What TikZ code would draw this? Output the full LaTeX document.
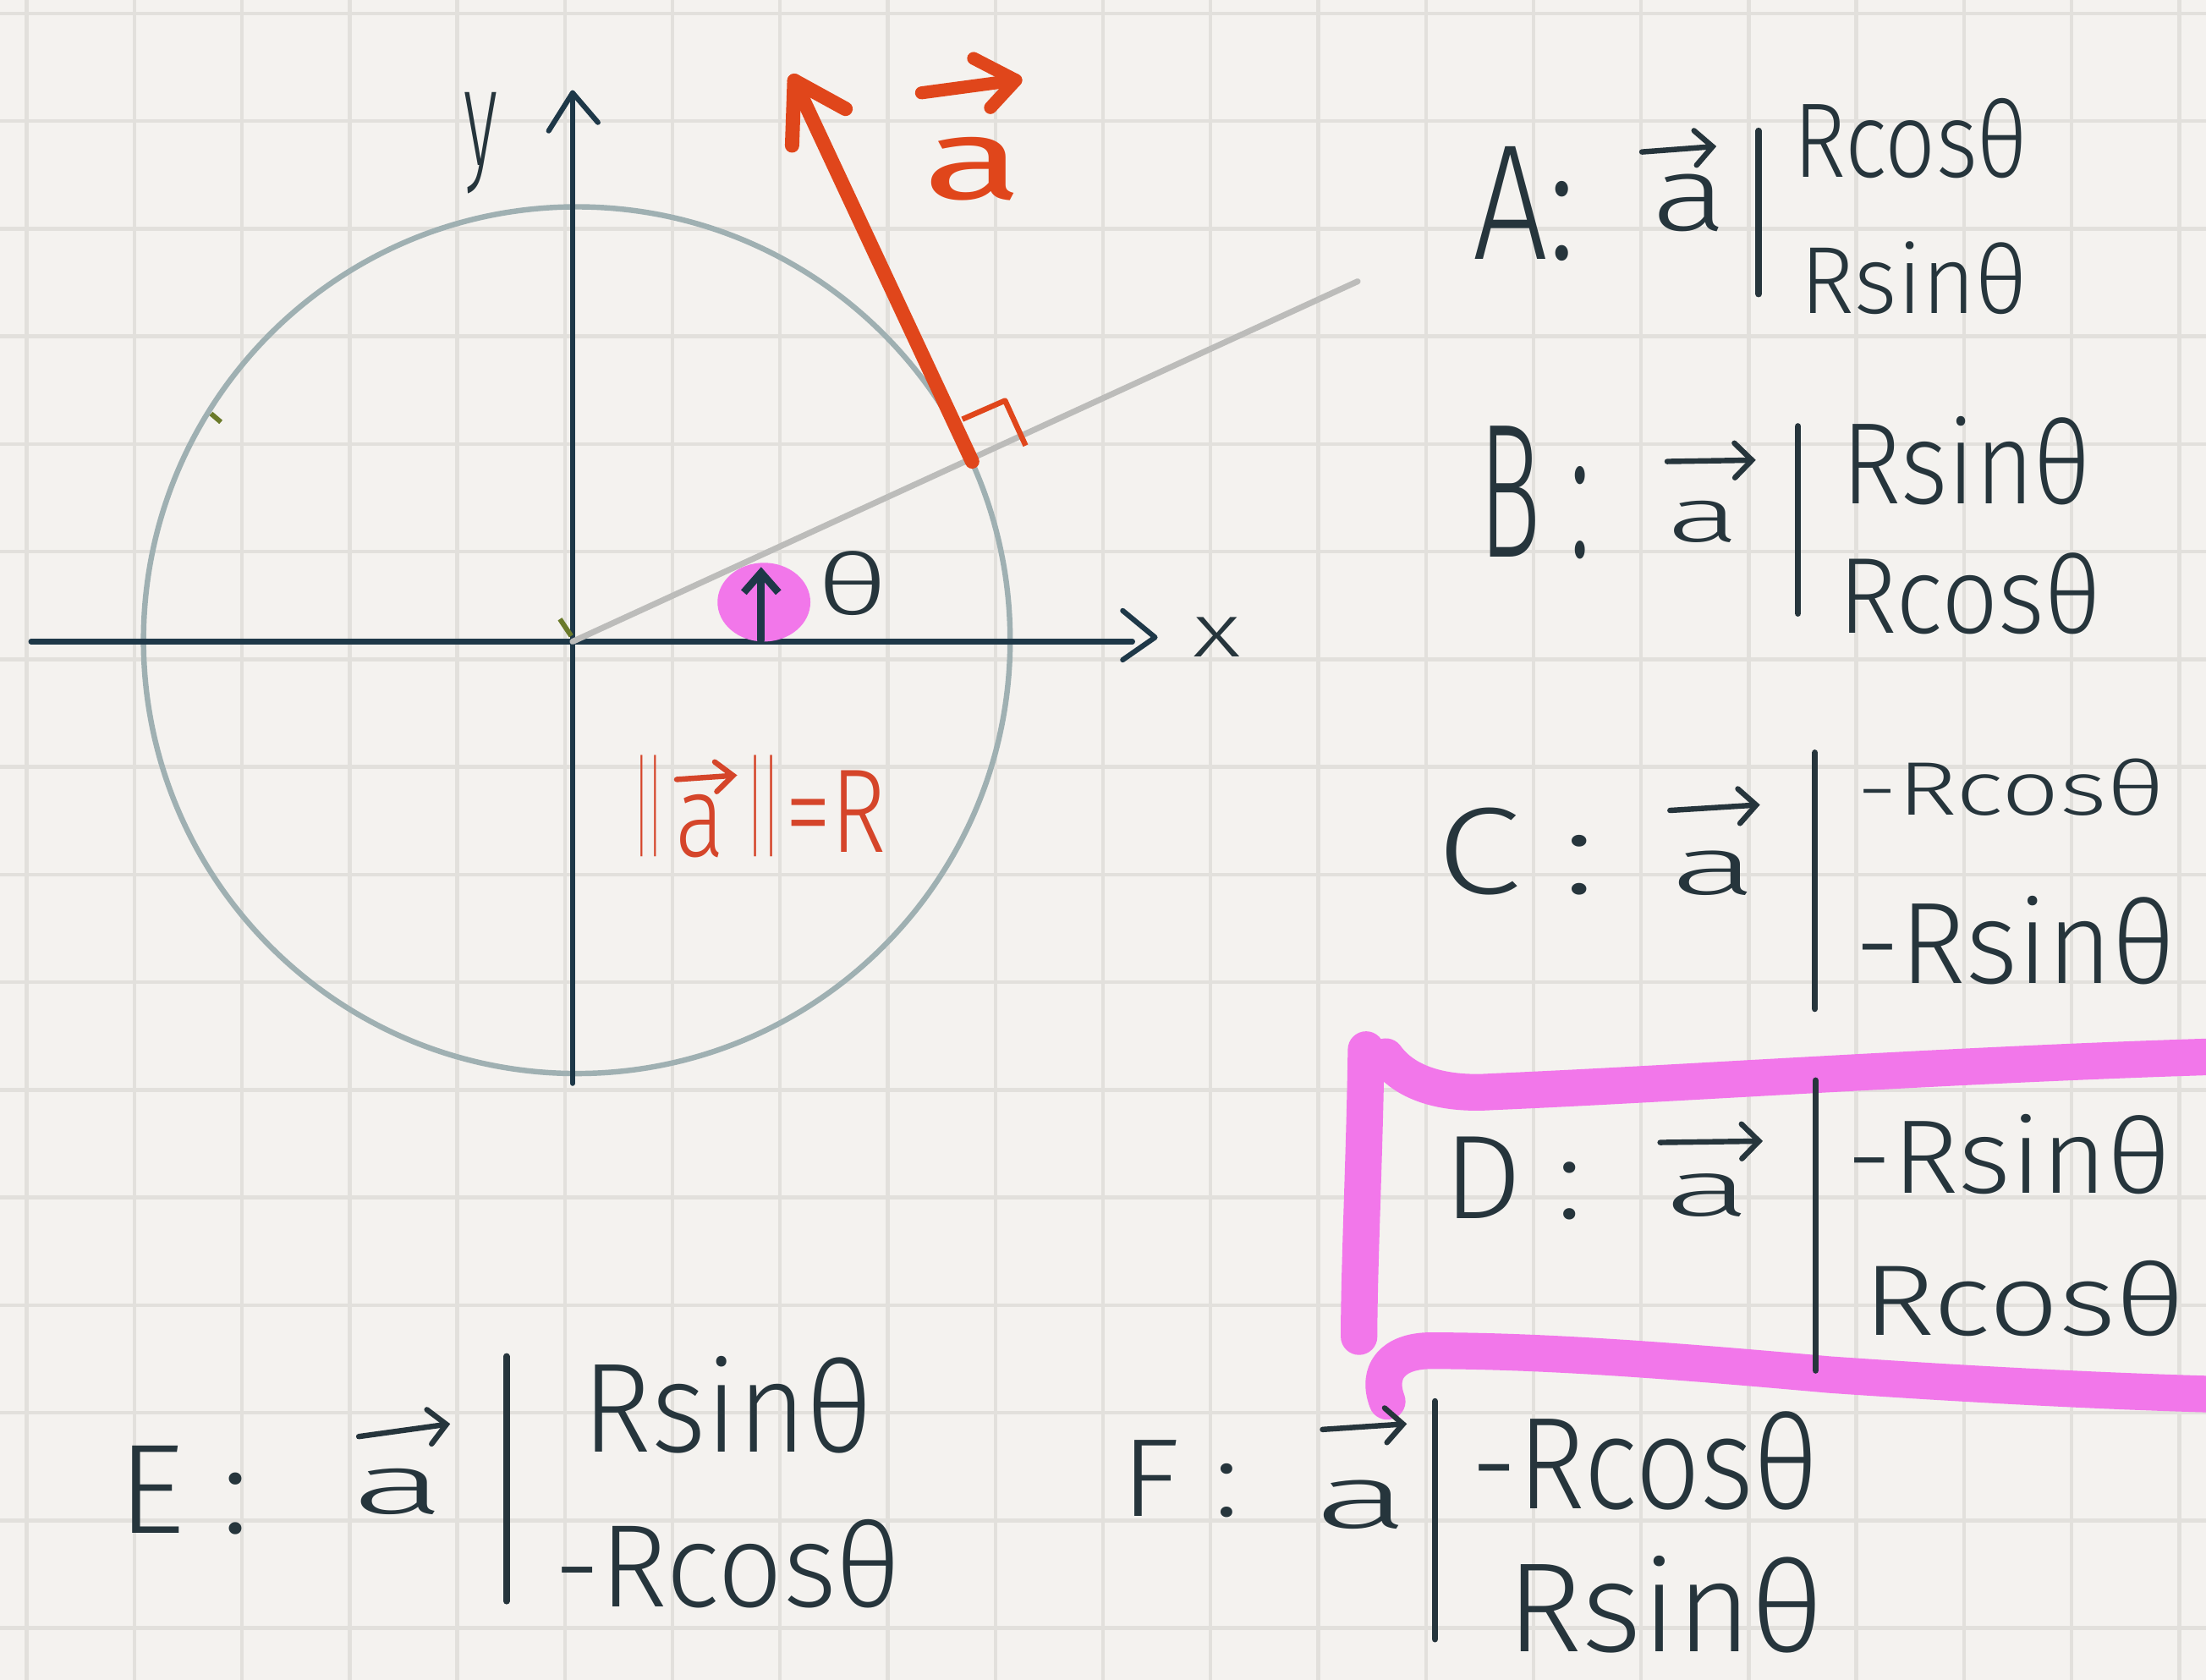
\documentclass[tikz,border=0pt]{standalone}
\usepackage{fontspec}
\setmainfont{Fira Sans Light}[BoldFont={Fira Sans}]
\usepackage{graphicx}
\usetikzlibrary{arrows.meta}
\definecolor{paper}{HTML}{F4F2EF}
\definecolor{gridc}{HTML}{E2E0DC}
\definecolor{ink}{HTML}{26353C}
\definecolor{axisc}{HTML}{1E3848}
\definecolor{circc}{HTML}{9FB0B2}
\definecolor{rayc}{HTML}{BCBCBA}
\definecolor{redc}{HTML}{E0461B}
\definecolor{redt}{HTML}{D5452A}
\definecolor{pinkc}{HTML}{F277EA}
\definecolor{tickc}{HTML}{6B7A2A}
\newcommand\hwb[3]{\resizebox{#1cm}{#2cm}{#3}}
\newcommand\hwt[3]{\resizebox*{#1cm}{#2cm}{#3}}
\begin{document}
\begin{tikzpicture}[x=0.01cm,y=-0.01cm,
  gridline/.style={line width=0.75pt,draw=gridc},
  axis/.style={line width=1.05pt,draw=axisc,line cap=round,line join=round},
  circ/.style={line width=1.1pt,draw=circc},
  ray/.style={line width=1.2pt,draw=rayc,line cap=round},
  redvec/.style={line width=2.9pt,draw=redc,line cap=round,line join=round},
  pinkmark/.style={line width=7.4pt,draw=pinkc,line cap=round,line join=round},
  barline/.style={line width=1.3pt,draw=ink,line cap=round},
  vecover/.style={line width=1.1pt,draw=ink,line cap=round,-{Straight Barb[length=3.5pt,width=7pt,line cap=round]}},
  hw/.style={text=ink,inner sep=0pt,outer sep=0pt,anchor=base west,font=\fontsize{24}{24}\selectfont},
]
\useasboundingbox (0,0) rectangle (1568,1194);
\fill[paper] (0,0) rectangle (1568,1194);
\foreach \i in {0,...,20} \draw[gridline] ({19+76.5*\i},0) -- ({19+76.5*\i},1194);
\foreach \j in {0,...,15} \draw[gridline] (0,{9.6+76.5*\j}) -- (1568,{9.6+76.5*\j});

% circle and axes
\draw[circ] (410,455) circle [radius=308];
\coordinate (O) at (407,456);
\coordinate (xl) at (22,456);
\coordinate (xr) at (805,456);
\coordinate (xtip) at (821,453);
\coordinate (xb1) at (798,434);
\coordinate (xb2) at (798,469);
\coordinate (yb) at (407,770);
\coordinate (ytip) at (407,66);
\coordinate (yb1) at (390,93);
\coordinate (yb2) at (425,87);
\draw[axis] (xl) -- (xr);
\draw[axis] (xb1) -- (xtip) -- (xb2);
\draw[axis] (yb) -- (ytip);
\draw[axis] (yb1) -- (ytip) -- (yb2);
\node[hw,anchor=south west] (ylab) at (330,138) {\hwt{0.24}{0.72}{y}};
\node[hw] (xlab) at (848,467) {\hwb{0.34}{0.28}{x}};

% ray
\coordinate (rend) at (965,200);
\draw[ray] (O) -- (rend);

% small ticks
\draw[tickc,line width=1pt] (150,294) -- (157,300);
\draw[tickc,line width=1pt] (398,440) -- (406,452);

% theta marker
\fill[pinkc] (543,428) ellipse [x radius=33, y radius=28];
\coordinate (tb) at (541,455);
\coordinate (tt) at (541,403);
\draw[axis,line width=1.5pt,-{Straight Barb[length=4pt,width=7pt]}] (tb) -- (tt);
\node[hw] (theta) at (581,437) {\hwb{0.50}{0.45}{θ}};

% red vector
\coordinate (vtail) at (691,328);
\coordinate (vtip) at (564.6,57.4);
\coordinate (vb1) at (563,103.4);
\coordinate (vb2) at (601,77.4);
\draw[redvec] (vtail) -- (vtip);
\draw[redvec] (vb1) -- (vtip) -- (vb2);
\coordinate (m1) at (684,298);
\coordinate (m2) at (714.4,284.7);
\coordinate (m3) at (729,316.7);
\draw[draw=redc,line width=1.1pt,line join=round] (m1) -- (m2) -- (m3);
\node[hw,text=redc] (reda) at (656,141.5) {\hwb{0.71}{0.44}{\textbf{a}}};
\coordinate (ra1) at (655,66);
\coordinate (ra2) at (722,57);
\coordinate (rah1) at (692,41.5);
\coordinate (rah2) at (704,76.5);
\draw[redvec,line width=2.6pt] (ra1) -- (ra2);
\draw[redvec,line width=2.6pt] (rah1) -- (ra2) -- (rah2);

% norm label ||a||=R
\node[hw,text=redt,anchor=south west] (nb1) at (451,609) {\hwt{0.20}{0.72}{||}};
\node[hw,text=redt] (na) at (480,609) {\hwb{0.35}{0.44}{a}};
\draw[draw=redt,line width=1.1pt,line cap=round,-{Straight Barb[length=3.5pt,width=6pt,line cap=round]}] (481,554) -- (524,551);
\node[hw,text=redt,anchor=south west] (nb2) at (531,609) {\hwt{0.23}{0.72}{||}};
\node[hw,text=redt] (nR) at (558,606) {\hwb{0.72}{0.58}{=R}};

% A
\node[hw] (Al) at (1047,184) {\hwb{0.73}{0.80}{A:}};
\node[hw] (Aa) at (1174,164) {\hwb{0.54}{0.40}{a}};
\coordinate (Av1) at (1167,108); \coordinate (Av2) at (1220,104);
\draw[vecover] (Av1) -- (Av2);
\coordinate (Ab1) at (1250,93); \coordinate (Ab2) at (1250,209);
\draw[barline] (Ab1) -- (Ab2);
\node[hw] (Ax) at (1275,126) {\hwb{1.66}{0.56}{Rcosθ}};
\node[hw] (Ay) at (1280,223) {\hwb{1.61}{0.51}{Rsinθ}};

% B
\node[hw] (Bl) at (1051,396) {\hwb{0.80}{0.93}{B :}};
\node[hw] (Ba) at (1185,385) {\hwb{0.52}{0.29}{a}};
\coordinate (Bv1) at (1185,328); \coordinate (Bv2) at (1248,327);
\draw[vecover] (Bv1) -- (Bv2);
\coordinate (Bb1) at (1278,303); \coordinate (Bb2) at (1278,436);
\draw[barline] (Bb1) -- (Bb2);
\node[hw] (Bx) at (1309,358) {\hwb{1.77}{0.62}{Rsinθ}};
\node[hw] (By) at (1307,450) {\hwb{1.86}{0.57}{Rcosθ}};

% C
\node[hw] (Cl) at (1021,635) {\hwb{1.13}{0.61}{C :}};
\node[hw] (Ca) at (1187,636) {\hwb{0.62}{0.31}{a}};
\coordinate (Cv1) at (1187,576); \coordinate (Cv2) at (1251,572);
\draw[vecover] (Cv1) -- (Cv2);
\coordinate (Cb1) at (1290,535); \coordinate (Cb2) at (1290,717);
\draw[barline] (Cb1) -- (Cb2);
\node[hw] (Cx) at (1320,579) {\hwb{2.18}{0.40}{-Rcosθ}};
\node[hw] (Cy) at (1319,699) {\hwb{2.27}{0.62}{-Rsinθ}};

% D highlight
\draw[pinkmark] (971,746) .. controls (970,820) and (966,900) .. (966,950);
\draw[pinkmark] (985,751) .. controls (1000,772) and (1030,778) .. (1060,776) .. controls (1200,770) and (1380,757) .. (1575,751);
\draw[pinkmark] (986,996) .. controls (978,975) and (990,960) .. (1017,960) .. controls (1100,960) and (1200,968) .. (1300,977) .. controls (1400,984) and (1500,989) .. (1575,991);

% D
\node[hw] (Dl) at (1026,866) {\hwb{0.99}{0.58}{D :}};
\node[hw] (Da) at (1183,864) {\hwb{0.62}{0.30}{a}};
\coordinate (Dv1) at (1180,812); \coordinate (Dv2) at (1253,811);
\draw[vecover] (Dv1) -- (Dv2);
\coordinate (Db1) at (1290.5,768); \coordinate (Db2) at (1290.5,974);
\draw[barline] (Db1) -- (Db2);
\node[hw] (Dx) at (1313,848) {\hwb{2.30}{0.56}{-Rsinθ}};
\node[hw] (Dy) at (1324,949) {\hwb{2.29}{0.53}{Rcosθ}};

% E
\node[hw] (El) at (84,1090) {\hwb{0.93}{0.62}{E :}};
\node[hw] (Ea) at (250,1076) {\hwb{0.67}{0.32}{a}};
\coordinate (Ev1) at (255,1021); \coordinate (Ev2) at (320,1012);
\draw[vecover] (Ev1) -- (Ev2);
\coordinate (Eb1) at (360,964); \coordinate (Eb2) at (360,1138);
\draw[barline] (Eb1) -- (Eb2);
\node[hw] (Ex) at (414,1032) {\hwb{2.06}{0.68}{Rsinθ}};
\node[hw] (Ey) at (394,1142) {\hwb{2.46}{0.62}{-Rcosθ}};

% F
\node[hw] (Fl) at (797,1078) {\hwb{0.84}{0.54}{F :}};
\node[hw] (Fa) at (934,1086) {\hwb{0.68}{0.34}{a}};
\coordinate (Fv1) at (940,1016); \coordinate (Fv2) at (1000,1012);
\draw[vecover] (Fv1) -- (Fv2);
\coordinate (Fb1) at (1020,996); \coordinate (Fb2) at (1020,1165);
\draw[barline] (Fb1) -- (Fb2);
\node[hw] (Fx) at (1046,1072) {\hwb{2.46}{0.69}{-Rcosθ}};
\node[hw] (Fy) at (1071,1174) {\hwb{2.25}{0.68}{Rsinθ}};
\end{tikzpicture}
\end{document}
